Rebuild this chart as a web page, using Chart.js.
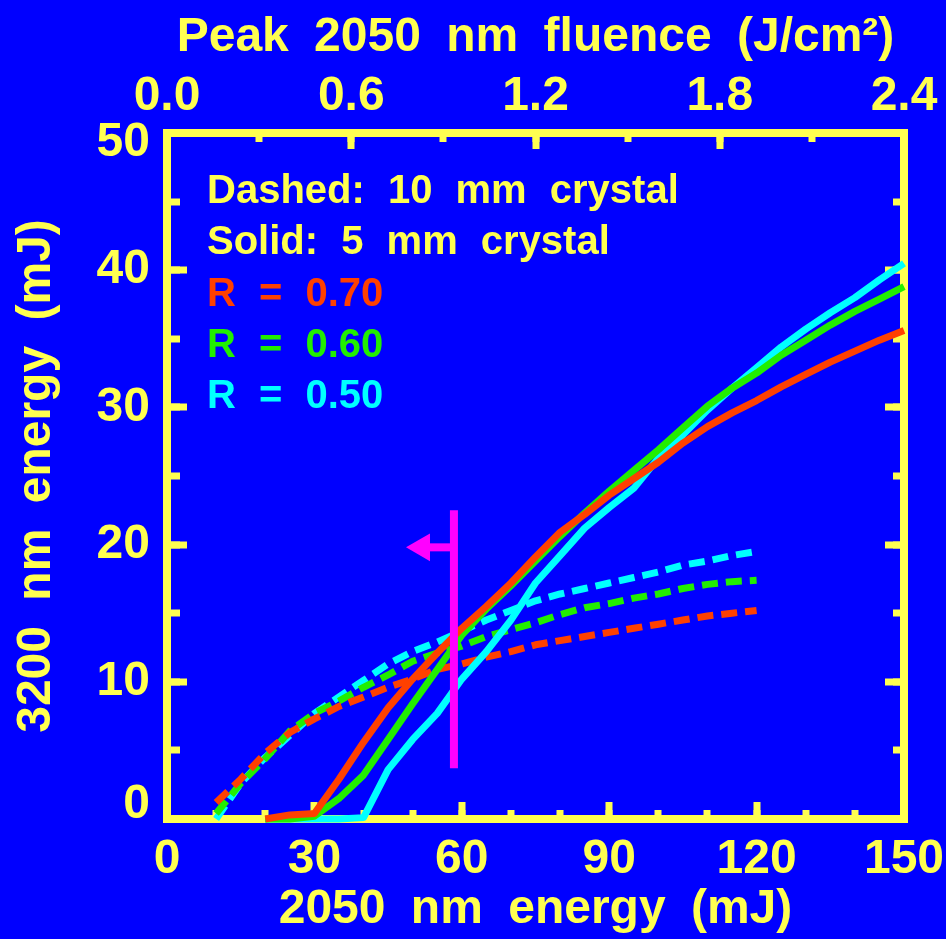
<!DOCTYPE html>
<html>
<head>
<meta charset="utf-8">
<script src="https://cdn.jsdelivr.net/npm/chart.js@4.4.1/dist/chart.umd.min.js"></script>
<style>
  html, body { margin: 0; padding: 0; background: #0000ff; }
  canvas { display: block; }
</style>
</head>
<body>
<canvas id="chart" width="946" height="939"></canvas>
<script>
// 5 mm crystal (solid)
var solidEnergy = [20, 25, 30, 35, 40, 45, 50, 55, 60, 65, 70, 75, 80, 85, 90, 95, 100, 105, 110, 115, 120, 125, 130, 135, 140, 145, 150];
var solidR70 = [0, 0.3, 0.4, 2.9, 5.6, 8.1, 10.2, 12.1, 13.9, 15.5, 17.2, 19.1, 20.9, 22.2, 23.6, 24.8, 26.0, 27.4, 28.6, 29.6, 30.5, 31.5, 32.4, 33.3, 34.1, 34.9, 35.6];
var solidR60 = [0, 0, 0.2, 1.5, 3.2, 5.8, 8.4, 10.9, 13.4, 15.3, 17.0, 18.8, 20.6, 22.3, 23.9, 25.4, 26.9, 28.5, 30.1, 31.4, 32.5, 33.8, 34.9, 36.0, 37.0, 37.9, 38.8];
var solidR50 = [0, 0, 0, 0, 0.1, 3.6, 5.8, 7.7, 10.2, 12.2, 14.5, 17.2, 19.2, 21.2, 22.7, 24.1, 26.3, 28.0, 29.8, 31.4, 32.9, 34.4, 35.7, 36.9, 38.0, 39.3, 40.5];

// 10 mm crystal (dashed)
var dashedEnergy = [10, 15, 20, 25, 30, 35, 40, 45, 50, 55, 60, 65, 70, 75, 80, 85, 90, 95, 100, 105, 110, 115, 120];
var dashedR70 = [1.2, 2.9, 4.8, 6.3, 7.3, 8.2, 8.9, 9.6, 10.2, 10.9, 11.3, 11.8, 12.2, 12.7, 13.0, 13.3, 13.6, 13.9, 14.2, 14.5, 14.8, 15.0, 15.2];
var dashedR60 = [0.4, 2.6, 4.4, 6.4, 7.7, 8.6, 9.6, 10.5, 11.5, 12.1, 12.6, 13.3, 13.8, 14.3, 14.9, 15.4, 15.7, 16.1, 16.4, 16.8, 17.1, 17.3, 17.4];
var dashedR50 = [0, 2.6, 4.5, 6.1, 7.7, 8.9, 10.1, 11.3, 12.2, 12.9, 13.7, 14.5, 15.2, 15.9, 16.4, 16.8, 17.2, 17.6, 18.0, 18.5, 18.8, 19.2, 19.5];

// magenta marker and arrow
var markerEnergy = [58.4, 58.4];
var markerOutput = [3.7, 22.5];
var arrowEnergy = [58.4, 53.5];
var arrowOutput = [19.8, 19.8];
var arrowHeadEnergy = [51.9];
var arrowHeadOutput = [19.8];

var legendLines = ['Dashed: 10 mm crystal', 'Solid: 5 mm crystal', 'R = 0.70', 'R = 0.60', 'R = 0.50'];

var YEL = '#ffff50';
var RED = '#ff4000';
var GRN = '#22ee00';
var CYN = '#00ffff';
var MAG = '#ff00ff';
var legendColors = [YEL, YEL, RED, GRN, CYN];
var FAMILY = '"Liberation Sans", Arial, sans-serif';

Chart.defaults.font.family = FAMILY;

var toPoints = function(xs, ys) {
	return xs.map(function(x, i) { return { x: x, y: ys[i] }; });
};

var curve = function(xs, ys, color, dashed) {
	return {
		data: toPoints(xs, ys),
		borderColor: color,
		borderWidth: 7,
		borderDash: dashed ? [16, 8] : [],
		borderJoinStyle: 'round',
		pointRadius: 0,
		tension: 0,
		clip: false
	};
};

var bigFont = { family: FAMILY, size: 48, weight: 'bold' };

var paperPlugin = {
	id: 'paper',
	beforeDraw: function(chart) {
		chart.ctx.wordSpacing = '12px';
	},
	afterDraw: function(chart) {
		var ctx = chart.ctx;
		ctx.save();
		ctx.font = 'bold 40px ' + FAMILY;
		ctx.textAlign = 'left';
		ctx.textBaseline = 'alphabetic';
		for (var i = 0; i < legendLines.length; i++) {
			ctx.fillStyle = legendColors[i];
			ctx.fillText(legendLines[i], 207, 203 + i * 51.3);
		}
		ctx.restore();
	}
};

// fixed box sizes so the plot frame lands where the reference has it
var fixBox = function(size) {
	return function(s) {
		if (s.isHorizontal()) {
			s.height = size;
			s.paddingLeft = 0;
			s.paddingRight = 0;
		} else {
			s.width = size;
			s.paddingTop = 0;
			s.paddingBottom = 0;
		}
	};
};

var minorAxis = function(pos, min, max, step, tl) {
	return {
		type: 'linear', position: pos, min: min, max: max, weight: 0,
		ticks: { stepSize: step, display: false },
		grid: { drawOnChartArea: false, tickLength: tl, tickWidth: 7, tickColor: YEL, lineWidth: 8 },
		border: { display: false },
		afterFit: fixBox(0)
	};
};

new Chart(document.getElementById('chart'), {
	type: 'line',
	data: {
		datasets: [
			{ data: toPoints(markerEnergy, markerOutput), borderColor: MAG, borderWidth: 8, borderCapStyle: 'butt', pointRadius: 0, clip: false },
			{ data: toPoints(arrowEnergy, arrowOutput), borderColor: MAG, borderWidth: 8, borderCapStyle: 'butt', pointRadius: 0, clip: false },
			{ data: toPoints(arrowHeadEnergy, arrowHeadOutput), showLine: false, pointStyle: 'triangle', pointRotation: 270, pointRadius: 16, pointBackgroundColor: MAG, pointBorderWidth: 0, clip: false },
			curve(solidEnergy, solidR70, RED, false),
			curve(solidEnergy, solidR60, GRN, false),
			curve(solidEnergy, solidR50, CYN, false),
			curve(dashedEnergy, dashedR70, RED, true),
			curve(dashedEnergy, dashedR60, GRN, true),
			curve(dashedEnergy, dashedR50, CYN, true)
		]
	},
	options: {
		responsive: false,
		animation: false,
		events: [],
		layout: { padding: 0 },
		plugins: { legend: { display: false }, tooltip: { enabled: false } },
		scales: {
			x: {
				type: 'linear', position: 'bottom', min: 0, max: 150, weight: 1,
				ticks: { stepSize: 30, color: YEL, font: bigFont, padding: 29, maxRotation: 0, autoSkip: false },
				grid: { drawOnChartArea: false, tickLength: -17, tickWidth: 7, tickColor: YEL, lineWidth: 8 },
				border: { color: YEL, width: 8 },
				title: { display: true, text: '2050 nm energy (mJ)', color: YEL, font: bigFont, padding: { top: 0, bottom: 0 } },
				afterFit: fixBox(120)
			},
			xMinor: minorAxis('bottom', 0, 150, 10, -9),
			xTop: {
				type: 'linear', position: 'top', min: 0, max: 2.4, weight: 1,
				ticks: { stepSize: 0.6, color: YEL, font: bigFont, padding: 23, maxRotation: 0, autoSkip: false,
					callback: function(v) { return Number(v).toFixed(1); } },
				grid: { drawOnChartArea: false, tickLength: -16, tickWidth: 7, tickColor: YEL, lineWidth: 8 },
				border: { color: YEL, width: 8 },
				title: { display: true, text: 'Peak 2050 nm fluence (J/cm²)', color: YEL, font: bigFont, padding: { top: 9, bottom: 0 } },
				afterFit: fixBox(133)
			},
			xTopMinor: minorAxis('top', 0, 2.4, 0.3, -9),
			y: {
				type: 'linear', position: 'left', min: 0, max: 50, weight: 1,
				ticks: {
					stepSize: 10, color: YEL, padding: 37, autoSkip: false,
					font: function(c) {
						var v = c.tick ? c.tick.value : null;
						var lh = v === 0 ? 0.583 : (v === 50 ? 0.4 : 1.2);
						return { family: FAMILY, size: 48, weight: 'bold', lineHeight: lh };
					},
					callback: function(v) {
						if (v === 0) return ['0', ''];
						if (v === 50) return ['', '50'];
						return String(v);
					}
				},
				grid: { drawOnChartArea: false, tickLength: -20, tickWidth: 7, tickColor: YEL, lineWidth: 8 },
				border: { color: YEL, width: 8 },
				title: { display: true, text: '3200 nm energy (mJ)', color: YEL, font: bigFont, padding: { top: 8, bottom: 0 } },
				afterFit: fixBox(167)
			},
			yMinor: minorAxis('left', 0, 50, 5, -13),
			yRight: {
				type: 'linear', position: 'right', min: 0, max: 50, weight: 1,
				ticks: { stepSize: 10, display: false },
				grid: { drawOnChartArea: false, tickLength: -19, tickWidth: 7, tickColor: YEL, lineWidth: 8 },
				border: { color: YEL, width: 8 },
				afterFit: fixBox(42)
			},
			yRightMinor: minorAxis('right', 0, 50, 5, -11)
		}
	},
	plugins: [paperPlugin]
});
</script>
</body>
</html>
